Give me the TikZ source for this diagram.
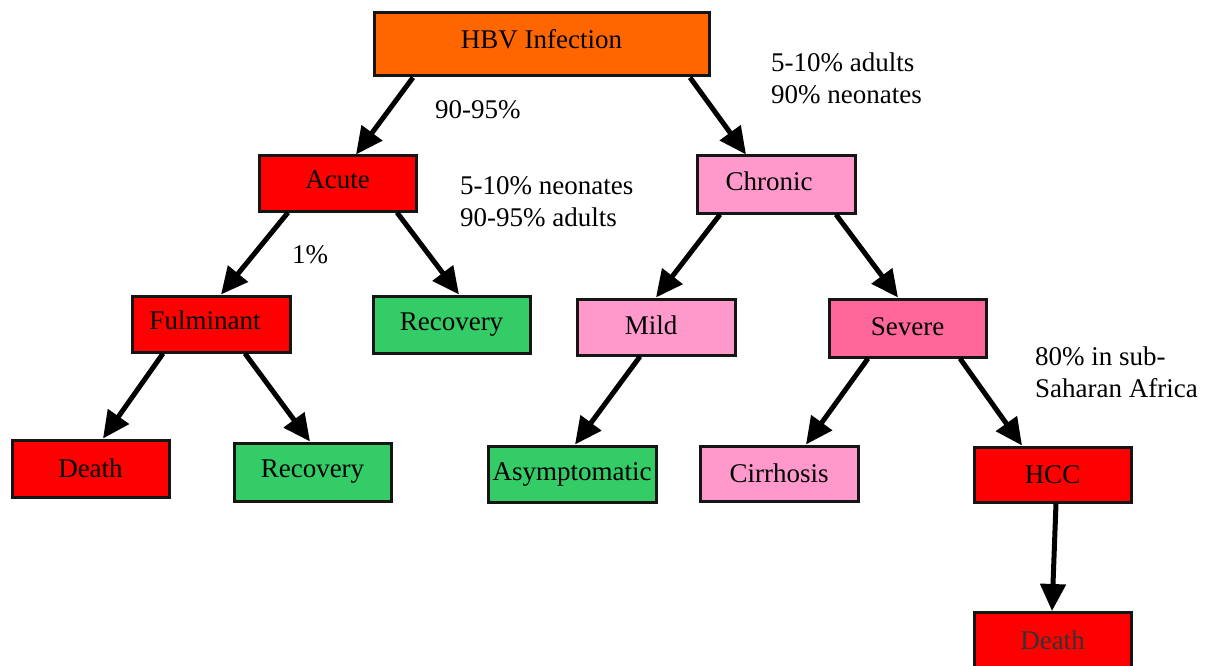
\documentclass[tikz,border=0pt]{standalone}
\usepackage{fontspec}
\setmainfont{Liberation Serif}
\newfontfamily\tnr{Liberation Serif}
\usetikzlibrary{arrows.meta}
\definecolor{cOrange}{HTML}{FF6600}
\definecolor{cRed}{HTML}{FF0000}
\definecolor{cPink}{HTML}{FF99CC}
\definecolor{cDeep}{HTML}{FF6699}
\definecolor{cGreen}{HTML}{33CC66}
\definecolor{cBorder}{HTML}{151515}
\definecolor{cGrayText}{HTML}{333333}
\begin{document}
\begin{tikzpicture}[x=1pt,y=-1pt,
  font=\tnr\fontsize{27}{32}\selectfont,
  box/.style={draw=cBorder,line width=3pt,rectangle,inner sep=0pt,minimum height=56pt,minimum width=157pt},
  lbl/.style={inner sep=0pt,align=left,anchor=west},
  arr/.style={line width=5pt,-{Triangle[length=27pt,width=25pt]},black}
]
\useasboundingbox (0,0) rectangle (1208,666);
\fill[white] (0,0) rectangle (1208,666);

\node[box,fill=cOrange,minimum width=335pt,minimum height=63pt] (hbv) at (541.5,44.5) {\raisebox{11pt}{HBV Infection}};
\node[box,fill=cRed,minimum height=55pt] (acute) at (337.5,183.5) {\raisebox{7pt}{Acute}};
\node[box,fill=cPink,minimum width=158pt,minimum height=57pt] (chronic) at (776,184.5) {\hspace*{-14pt}\raisebox{7pt}{Chronic}};
\node[box,fill=cRed,minimum width=158pt] (fulminant) at (211,324) {\hspace*{-12pt}\raisebox{7pt}{Fulminant}};
\node[box,fill=cGreen,minimum height=57pt] (recA) at (451.5,324.5) {\raisebox{-2pt}{Recovery}};
\node[box,fill=cPink,minimum width=158pt] (mild) at (656,327) {\hspace*{-10pt}\raisebox{3pt}{Mild}};
\node[box,fill=cDeep,minimum height=58pt] (severe) at (907.5,328) {\raisebox{3pt}{Severe}};
\node[box,fill=cRed,minimum height=57pt] (deathA) at (90.5,468.5) {Death};
\node[box,fill=cGreen,minimum height=58pt] (recB) at (312.5,472) {Recovery};
\node[box,fill=cGreen,minimum width=168pt] (asym) at (572,474) {Asymptomatic};
\node[box,fill=cPink,minimum width=158pt,minimum height=55pt] (cirr) at (779,473.5) {Cirrhosis};
\node[box,fill=cRed,minimum height=55pt] (hcc) at (1052.5,474.5) {\raisebox{-1pt}{HCC}};
\node[box,fill=cRed,minimum height=57pt] (deathB) at (1052.5,641) {\raisebox{2pt}{\color{cGrayText}Death}};

\draw[arr] ([xshift=-128.5pt]hbv.south) -- ([xshift=18.5pt]acute.north);
\draw[arr] ([xshift=148.5pt]hbv.south) -- ([xshift=-30pt]chronic.north);
\draw[arr] ([xshift=-49.5pt]acute.south) -- ([xshift=10pt]fulminant.north);
\draw[arr] ([xshift=59.5pt]acute.south) -- ([xshift=7.5pt]recA.north);
\draw[arr] ([xshift=-56pt]chronic.south) -- (mild.north);
\draw[arr] ([xshift=60pt]chronic.south) -- ([xshift=-9.5pt]severe.north);
\draw[arr] ([xshift=-48pt]fulminant.south) -- ([xshift=12.5pt]deathA.north);
\draw[arr] ([xshift=34pt]fulminant.south) -- ([xshift=-2.5pt]recB.north);
\draw[arr] ([xshift=-16pt]mild.south) -- ([xshift=3pt]asym.north);
\draw[arr] ([xshift=-39.5pt]severe.south) -- ([xshift=27pt]cirr.north);
\draw[arr] ([xshift=52.5pt]severe.south) -- ([xshift=-30.5pt]hcc.north);
\draw[arr] ([xshift=3.5pt]hcc.south) -- ([xshift=-0.5pt]deathB.north);

\node[lbl] (pA) at (435,110) {90-95\%};
\node[lbl] (pB) at (771,78) {5-10\% adults\\90\% neonates};
\node[lbl] (pC) at (460,202) {5-10\% neonates\\90-95\% adults};
\node[lbl] (pD) at (292,255) {1\%};
\node[lbl] (pE) at (1035,372.5) {80\% in sub-\\Saharan Africa};
\end{tikzpicture}
\end{document}
